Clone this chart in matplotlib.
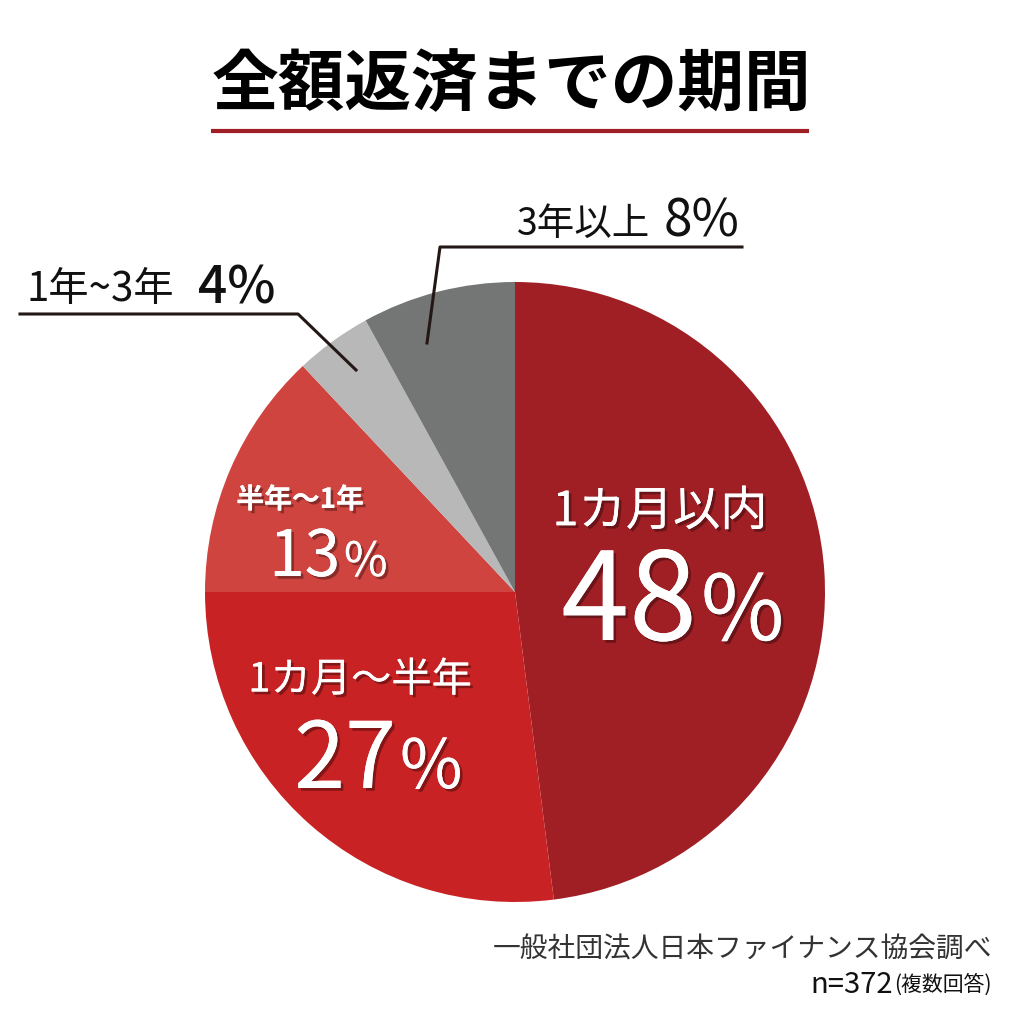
import matplotlib.pyplot as plt
import matplotlib.patheffects as pe

plt.rcParams['font.family'] = ['Noto Sans CJK JP', 'DejaVu Sans']

# --- data ---
labels = ['1カ月以内', '1カ月～半年', '半年～1年', '1年~3年', '3年以上']
shares = [48, 27, 13, 4, 8]
colors = ['#A01F25', '#C92224', '#D04440', '#B8B8B8', '#747575']
title = '全額返済までの期間'
source = '一般社団法人日本ファイナンス協会調べ'
sample = 'n=372'
sample_note = '(複数回答)'

H = 1024


def Y(y):
    # pixel row (top-down) -> data y
    return H - y


fig = plt.figure(figsize=(10.24, 10.24), dpi=100)
ax = fig.add_axes([0, 0, 1, 1])

ax.pie(shares, colors=colors, startangle=90, counterclock=False,
       center=(515, Y(592)), radius=310, frame=True,
       wedgeprops=dict(linewidth=0))
ax.set_xlim(0, 1024)
ax.set_ylim(0, 1024)
ax.set_aspect('equal')
ax.axis('off')

# title + underline
ax.text(511, Y(86), title, ha='center', va='center', fontsize=48,
        fontweight='bold', color='black')
ax.plot([211, 809], [Y(131), Y(131)], color='#A01F25', lw=3,
        solid_capstyle='butt')

shadow = [pe.withSimplePatchShadow(offset=(2, -2), shadow_rgbFace='black',
                                   alpha=0.35), pe.Normal()]


def inside(x, y, text, size, weight='regular'):
    ax.text(x, Y(y), text, ha='center', va='center', fontsize=size,
            color='white', fontweight=weight, path_effects=shadow)


def pct(x, y, value, size, ratio=0.74):
    ax.text(x, Y(y), str(value), ha='right', va='baseline',
            fontsize=size, color='white', path_effects=shadow)
    ax.text(x + 4, Y(y), '%', ha='left', va='baseline',
            fontsize=size * ratio, color='white', path_effects=shadow)


# 48%
inside(660, 512, labels[0], 34)
pct(697, 640, shares[0], 88)
# 27%
inside(360, 680, labels[1], 29)
pct(396, 788, shares[1], 66)
# 13%
inside(300, 500, labels[2], 20, weight='bold')
pct(340, 576, shares[2], 46)

# outside labels with leader lines
ax.text(650, Y(224), labels[4], ha='right', va='center', fontsize=27,
        color='#111111')
ax.text(664, Y(222), f'{shares[4]}%', ha='left', va='center', fontsize=37,
        color='#111111')
ax.plot([742, 440, 427], [Y(247), Y(247), Y(343)], color='#231815', lw=2.2)

ax.text(26, Y(290), labels[3], ha='left', va='center', fontsize=29,
        color='#111111')
ax.text(198, Y(288), f'{shares[3]}%', ha='left', va='center', fontsize=37,
        color='#111111', fontweight='medium')
ax.plot([20, 298, 356], [Y(314), Y(314), Y(370)], color='#231815', lw=2.2)

# source
ax.text(992, Y(950), source, ha='right', va='center', fontsize=20,
        color='#333333')
ax.text(992, Y(985), sample_note, ha='right', va='center', fontsize=15,
        color='#111111')
ax.text(893, Y(985), sample, ha='right', va='center', fontsize=21,
        color='#111111')

fig.savefig('out.png', dpi=100, facecolor='white')
